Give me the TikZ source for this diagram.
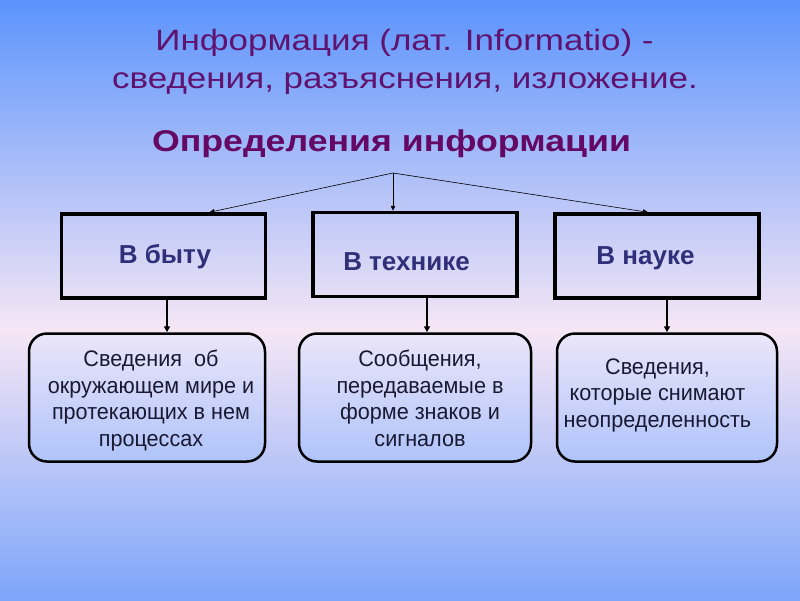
\documentclass[tikz,border=0pt]{standalone}
\usepackage{fontspec}
\setmainfont{Liberation Sans}
\newfontfamily\widefont[FakeStretch=1.19]{Liberation Sans}
\newfontfamily\narrowfont[FakeStretch=0.96]{Liberation Sans}
\usetikzlibrary{arrows.meta}
\definecolor{bgtop}{RGB}{92,148,252}
\definecolor{bgmid}{RGB}{245,230,245}
\definecolor{bgbot}{RGB}{125,165,250}
\definecolor{titlec}{RGB}{95,18,110}
\definecolor{headc}{RGB}{100,8,100}
\definecolor{lblc}{RGB}{48,48,122}
\definecolor{txtc}{RGB}{25,25,50}
\definecolor{boxtop}{RGB}{235,230,250}
\definecolor{boxbot}{RGB}{175,195,250}
\begin{document}
\begin{tikzpicture}[x=1pt,y=-1pt,
  catbox/.style={draw=black,line width=3.5pt,minimum width=204pt,minimum height=84pt,inner sep=0pt},
  defbox/.style={draw=black,line width=2.5pt,rounded corners=18pt,top color=boxtop,bottom color=boxbot,minimum height=128pt,inner sep=0pt},
  ttl/.style={text=titlec,anchor=base,inner sep=0pt,font=\widefont\fontsize{29.4}{34}\selectfont},
  lbl/.style={text=lblc,anchor=base,inner sep=0pt,font=\fontsize{26}{30}\selectfont\bfseries},
  deftxt/.style={text=txtc,align=center,anchor=base,inner sep=0pt,font=\narrowfont\fontsize{22.5}{26.5}\selectfont},
  conn/.style={draw=black,line width=0.6pt,-{Triangle[length=5pt,width=4.5pt]}},
  down/.style={draw=black,line width=1.6pt,-{Triangle[length=6pt,width=6pt]}}]
\useasboundingbox (0,0) rectangle (800,600);
\shade[top color=bgtop,bottom color=bgmid] (0,0) rectangle (800,330);
\shade[top color=bgmid,bottom color=bgbot] (0,330) rectangle (800,600);

\node[ttl] (t1) at (404.5,50) {Информация (лат. Informatio) -};
\node[ttl] (t2) at (405,88) {сведения, разъяснения, изложение.};
\node[ttl,text=headc,font=\widefont\fontsize{30}{34}\selectfont\bfseries] (head) at (391.5,151) {Определения информации};

\coordinate (apex) at (393,173);

\node[catbox] (b1) at (163.5,256) {};
\node[catbox] (b2) at (415,254.5) {};
\node[catbox] (b3) at (657,256) {};
\node[lbl] (l1) at (165,263) {В быту};
\node[lbl] (l2) at (406.5,270) {В технике};
\node[lbl] (l3) at (645.5,264) {В науке};

\draw[conn] (apex) -- ([xshift=46pt]b1.north);
\draw[conn] (apex) -- ([xshift=-22pt]b2.north);
\draw[conn] (apex) -- ([xshift=-9pt]b3.north);

\node[defbox,minimum width=236pt] (r1) at (147,397.5) {};
\node[defbox,minimum width=232pt] (r2) at (415,397.5) {};
\node[defbox,minimum width=220pt] (r3) at (667,397.5) {};

\node[deftxt] (d1) at (151,446.2) {Сведения~ об\\окружающем мире и\\протекающих в нем\\процессах};
\node[deftxt] (d2) at (420,446.2) {Сообщения,\\передаваемые в\\форме знаков и\\сигналов};
\node[deftxt] (d3) at (657.5,427.3) {Сведения,\\которые снимают\\неопределенность};

\coordinate (s1) at ([xshift=3.5pt]b1.south);
\coordinate (s2) at ([xshift=12pt]b2.south);
\coordinate (s3) at ([xshift=10pt]b3.south);
\draw[down] (s1) -- (s1 |- r1.north);
\draw[down] (s2) -- (s2 |- r2.north);
\draw[down] (s3) -- (s3 |- r3.north);
\end{tikzpicture}
\end{document}
